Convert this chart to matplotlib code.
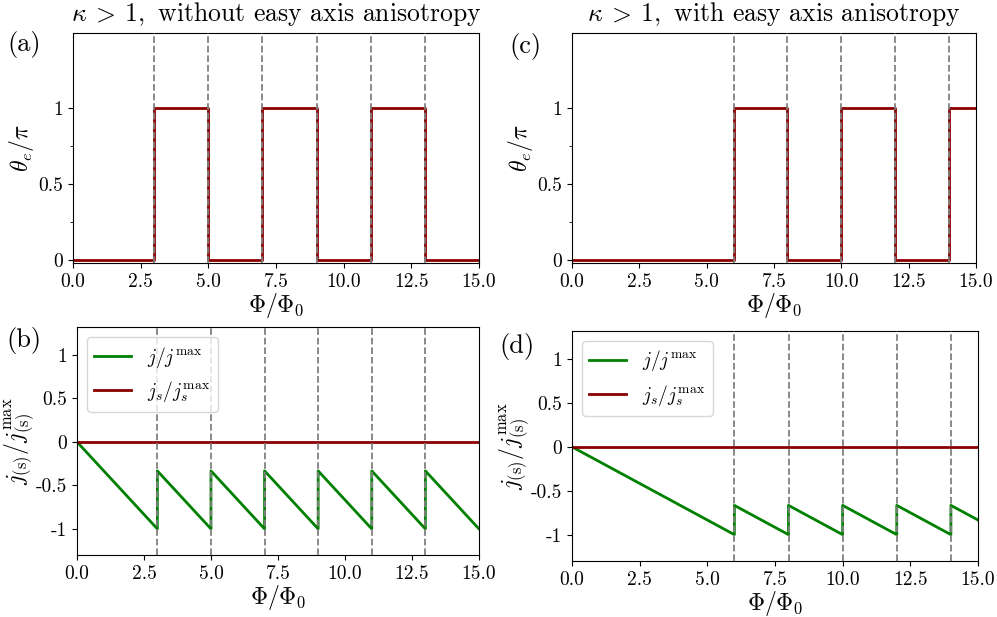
import numpy as np
from matplotlib import pyplot as plt

plt.rcParams['font.family'] = 'serif'
plt.rcParams['font.serif'] = ['cmr10', 'DejaVu Serif']
plt.rcParams['mathtext.fontset'] = 'cm'
plt.rcParams['axes.unicode_minus'] = False
plt.rcParams['axes.formatter.use_mathtext'] = True

# (a)/(b): without easy axis anisotropy
phi_a = [0, 3, 3, 5, 5, 7, 7, 9, 9, 11, 11, 13, 13, 15]
theta_a = [0, 0, 1, 1, 0, 0, 1, 1, 0, 0, 1, 1, 0, 0]
j_a = [0, -1, -1/3, -1, -1/3, -1, -1/3, -1, -1/3, -1, -1/3, -1, -1/3, -1]
js_a = [0, 0, 0, 0, 0, 0, 0, 0, 0, 0, 0, 0, 0, 0]
jumps_a = [3, 5, 7, 9, 11, 13]

# (c)/(d): with easy axis anisotropy
phi_c = [0, 6, 6, 8, 8, 10, 10, 12, 12, 14, 14, 15]
theta_c = [0, 0, 1, 1, 0, 0, 1, 1, 0, 0, 1, 1]
j_c = [0, -1, -2/3, -1, -2/3, -1, -2/3, -1, -2/3, -1, -2/3, -0.833]
js_c = [0, 0, 0, 0, 0, 0, 0, 0, 0, 0, 0, 0]
jumps_c = [6, 8, 10, 12, 14]

xticks = [0, 2.5, 5, 7.5, 10, 12.5, 15]
xticklabels = ['0.0', '2.5', '5.0', '7.5', '10.0', '12.5', '15.0']

titles = [r'$\kappa\:>\:1,$ without easy axis anisotropy',
          r'$\kappa\:>\:1,$ with easy axis anisotropy']

fig = plt.figure(figsize=(9.97, 6.17), dpi=100)
ax_a = fig.add_axes([0.0732, 0.5737, 0.4072, 0.3728])
ax_c = fig.add_axes([0.5737, 0.5737, 0.4052, 0.3728])
ax_b = fig.add_axes([0.0772, 0.1005, 0.4032, 0.3695])
ax_d = fig.add_axes([0.5737, 0.0908, 0.4072, 0.3728])

tfs = 14
lfs = 17

for ax, phi, theta, jumps, title in [(ax_a, phi_a, theta_a, jumps_a, titles[0]),
                                      (ax_c, phi_c, theta_c, jumps_c, titles[1])]:
    ax.plot(phi, theta, color='darkred', lw=2)
    for x in jumps:
        ax.axvline(x, color='gray', ls='--', lw=1.3, zorder=3)
    ax.set_xlim(0, 15)
    ax.set_ylim(-0.02, 1.49)
    ax.set_yticks([0, 0.5, 1])
    ax.set_yticklabels(['0', '0.5', '1'])
    ax.set_yticks([0.25, 0.75], minor=True)
    ax.set_xticks(xticks)
    ax.set_xticklabels(xticklabels)
    ax.tick_params(labelsize=tfs)
    ax.set_ylabel(r'$\theta_e/\pi$', fontsize=lfs, labelpad=2)
    ax.set_xlabel(r'$\Phi/\Phi_0$', fontsize=lfs, labelpad=0)
    ax.set_title(title, fontsize=18.5, pad=9)

for ax, phi, j, js, jumps in [(ax_b, phi_a, j_a, js_a, jumps_a),
                               (ax_d, phi_c, j_c, js_c, jumps_c)]:
    ax.plot(phi, j, color='green', lw=2, label=r'$j/j^{\rm max}$')
    ax.plot(phi, js, color='darkred', lw=2, label=r'$j_s/j_s^{\rm max}$')
    for x in jumps:
        ax.axvline(x, color='gray', ls='--', lw=1.3, zorder=3)
    ax.set_xlim(0, 15)
    ax.set_ylim(-1.3, 1.32)
    ax.set_yticks([-1, -0.5, 0, 0.5, 1])
    ax.set_yticklabels(['-1', '-0.5', '0', '0.5', '1'])
    ax.set_xticks(xticks)
    ax.set_xticklabels(xticklabels)
    ax.tick_params(labelsize=tfs)
    ax.set_ylabel(r'$j_{\rm (s)}/j_{\rm (s)}^{\rm max}$', fontsize=lfs, labelpad=0)
    ax.set_xlabel(r'$\Phi/\Phi_0$', fontsize=lfs, labelpad=0)
    ax.legend(loc='upper left', fontsize=14, handlelength=1.9)

# panel labels
for x, y, lab in [(24, 45, '(a)'), (24, 340, '(b)'), (525, 47, '(c)'), (517, 347, '(d)')]:
    fig.text(x / 997, 1 - y / 617, lab, fontsize=19, ha='center', va='center')

fig.savefig('out.png', dpi=100)
